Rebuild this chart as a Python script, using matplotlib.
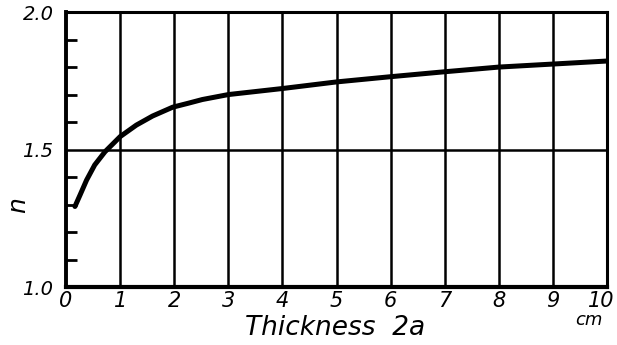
import numpy as np
import matplotlib
matplotlib.use('Agg')
import matplotlib.pyplot as plt
from matplotlib import transforms

# thickness 2a (cm) and n
thickness = [0.165, 0.26, 0.38, 0.53, 0.72, 1.0, 1.30, 1.60, 1.97, 2.25, 2.52, 3.0,
             4.0, 5.0, 6.0, 7.0, 8.0, 9.0, 10.0]
n_vals = [1.293, 1.335, 1.389, 1.444, 1.492, 1.547, 1.589, 1.622, 1.654, 1.668, 1.682, 1.700,
          1.722, 1.746, 1.765, 1.783, 1.800, 1.811, 1.822]

xticks = list(range(0, 11))
yticks_major = [1.0, 1.5, 2.0]
yticks_minor = [1.1, 1.2, 1.3, 1.4, 1.6, 1.7, 1.8, 1.9]

fig = plt.figure(figsize=(6.17, 3.45), dpi=100)
ax = fig.add_axes([0.107, 0.168, 0.877, 0.797])

ax.plot(thickness, n_vals, color='black', lw=3.6, solid_capstyle='round', solid_joinstyle='round')

ax.set_xlim(0, 10)
ax.set_ylim(1.0, 2.0)

# grid: every cm vertically, only n=1.5 horizontally
for xv in xticks[1:-1]:
    ax.axvline(xv, color='black', lw=1.8)
ax.axhline(1.5, color='black', lw=1.8)

for side in ['left', 'bottom', 'top', 'right']:
    ax.spines[side].set_linewidth(2.2)
ax.spines['left'].set_linewidth(2.8)
ax.spines['bottom'].set_linewidth(3.0)

ax.set_xticks(xticks)
ax.set_xticklabels([str(v) for v in xticks], fontsize=15, style='italic')
ax.tick_params(axis='x', length=0, pad=3)
# nudge the last label so it stays inside the figure
last = ax.get_xticklabels()[-1]
last.set_transform(last.get_transform() + transforms.ScaledTranslation(-6 / 100, 0, fig.dpi_scale_trans))

ax.set_yticks(yticks_major)
ax.set_yticklabels(['1.0', '1.5', '2.0'], fontsize=14, style='italic')
ax.set_yticks(yticks_minor, minor=True)
ax.tick_params(axis='y', which='major', length=0, pad=9)
ax.tick_params(axis='y', which='minor', direction='in', length=8, width=2)

fig.text(0.543, 0.049, 'Thickness  2a', fontsize=19, style='italic', ha='center', va='center')
fig.text(0.955, 0.072, 'cm', fontsize=13, style='italic', ha='center', va='center')
fig.text(0.03, 0.406, 'n', fontsize=18, style='italic', rotation=90, ha='center', va='center')

fig.savefig('out.png', dpi=100)
